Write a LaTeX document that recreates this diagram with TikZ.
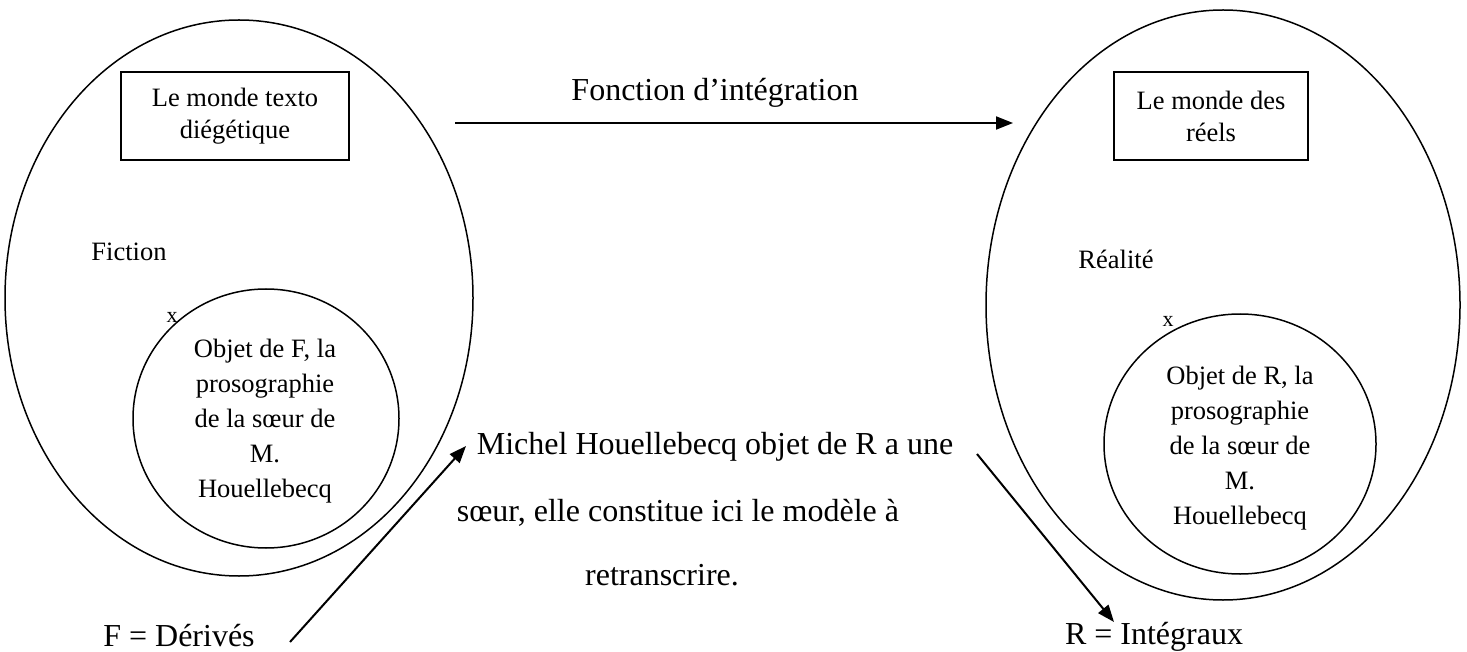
\documentclass[tikz,border=0pt]{standalone}
\usepackage{fontspec}
\setmainfont{Liberation Serif}
\usetikzlibrary{shapes.geometric,arrows.meta}
\begin{document}
\begin{tikzpicture}[x=1pt,y=-1pt,
  ring/.style={draw,ellipse,line width=1.5pt,inner sep=0pt},
  titlebox/.style={draw,line width=1.5pt,inner sep=0pt,align=center,font=\fontsize{26.5}{32}\selectfont},
  small/.style={inner sep=0pt,font=\fontsize{26.5}{35}\selectfont,align=center},
  big/.style={inner sep=0pt,font=\fontsize{32}{38}\selectfont},
  arr/.style={line width=2pt,-{Triangle[length=17pt,width=13pt]}}]
\useasboundingbox (0,0) rectangle (1467,652);
% left world
\node[ring,minimum width=468pt,minimum height=556pt] (L) at (239,298) {};
\node[titlebox,minimum width=228pt,minimum height=88pt] (Lbox) at (235,116) {Le monde texto\\diégétique};
\node[small] (fic) at (129,252) {Fiction};
\node[small,font=\fontsize{22}{26}\selectfont] (lx) at (172,317) {x};
\node[ring,minimum width=266pt,minimum height=259pt] (Li) at (266,418.5) {};
\node[small] (Lt) at (265,421.5) {Objet de F, la\\prosographie\\de la sœur de\\M.\\Houellebecq};
% right world
\node[ring,minimum width=474pt,minimum height=590pt] (R) at (1223,305) {};
\node[titlebox,minimum width=194pt,minimum height=88pt] (Rbox) at (1211,116) {Le monde des\\réels};
\node[small] (rea) at (1116,259) {Réalité};
\node[small,font=\fontsize{22}{26}\selectfont] (rx) at (1168,321) {x};
\node[ring,minimum width=272pt,minimum height=260pt] (Ri) at (1240,444) {};
\node[small] (Rt) at (1240,448) {Objet de R, la\\prosographie\\de la sœur de\\M.\\Houellebecq};
% top arrow
\node[big] (fn) at (715,93) {Fonction d’intégration};
\coordinate (fa) at (455,123);
\coordinate (fb) at (1013,123);
\draw[arr] (fa) -- (fb);
% middle text
\node[big] (m1) at (715,447) {Michel Houellebecq objet de R a une};
\node[big] (m2) at (678,513) {sœur, elle constitue ici le modèle à};
\node[big] (m3) at (662,575) {retranscrire.};
% bottom labels
\node[big] (fd) at (179,636) {F = Dérivés};
\node[big] (ri) at (1154,637) {R = Intégraux};
\coordinate (la) at (290,642);
\coordinate (lb) at (466,446);
\draw[arr] (la) -- (lb);
\coordinate (ra) at (977,454);
\coordinate (rb) at (1114,622);
\draw[arr] (ra) -- (rb);
\end{tikzpicture}
\end{document}
